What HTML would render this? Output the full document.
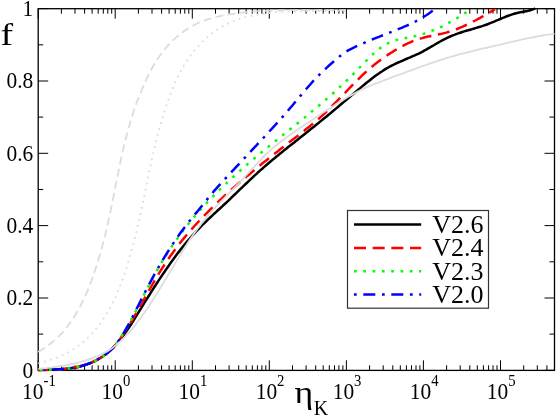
<!DOCTYPE html>
<html><head><meta charset="utf-8"><title>f vs eta_K</title>
<style>
html,body{margin:0;padding:0;background:#fff;}
body{width:556px;height:416px;overflow:hidden;}
svg{display:block;}
text{font-family:"Liberation Serif",serif;fill:#000;}
</style></head><body>
<svg width="556" height="416" viewBox="0 0 556 416">
<rect x="0" y="0" width="556" height="416" fill="#fff"/>
<defs><clipPath id="pa"><rect x="37.2" y="6.7" width="518.3" height="365.7"/></clipPath></defs>

<path d="M38.2 370.3 v-10 M38.2 8.7 v10 M61.4 370.3 v-5 M61.4 8.7 v5 M75.0 370.3 v-5 M75.0 8.7 v5 M84.6 370.3 v-5 M84.6 8.7 v5 M92.1 370.3 v-5 M92.1 8.7 v5 M98.2 370.3 v-5 M98.2 8.7 v5 M103.3 370.3 v-5 M103.3 8.7 v5 M107.8 370.3 v-5 M107.8 8.7 v5 M111.7 370.3 v-5 M111.7 8.7 v5 M115.2 370.3 v-10 M115.2 8.7 v10 M138.4 370.3 v-5 M138.4 8.7 v5 M152.0 370.3 v-5 M152.0 8.7 v5 M161.6 370.3 v-5 M161.6 8.7 v5 M169.1 370.3 v-5 M169.1 8.7 v5 M175.2 370.3 v-5 M175.2 8.7 v5 M180.4 370.3 v-5 M180.4 8.7 v5 M184.8 370.3 v-5 M184.8 8.7 v5 M188.8 370.3 v-5 M188.8 8.7 v5 M192.3 370.3 v-10 M192.3 8.7 v10 M215.5 370.3 v-5 M215.5 8.7 v5 M229.1 370.3 v-5 M229.1 8.7 v5 M238.7 370.3 v-5 M238.7 8.7 v5 M246.2 370.3 v-5 M246.2 8.7 v5 M252.3 370.3 v-5 M252.3 8.7 v5 M257.4 370.3 v-5 M257.4 8.7 v5 M261.9 370.3 v-5 M261.9 8.7 v5 M265.8 370.3 v-5 M265.8 8.7 v5 M269.3 370.3 v-10 M269.3 8.7 v10 M292.5 370.3 v-5 M292.5 8.7 v5 M306.1 370.3 v-5 M306.1 8.7 v5 M315.7 370.3 v-5 M315.7 8.7 v5 M323.2 370.3 v-5 M323.2 8.7 v5 M329.3 370.3 v-5 M329.3 8.7 v5 M334.5 370.3 v-5 M334.5 8.7 v5 M338.9 370.3 v-5 M338.9 8.7 v5 M342.9 370.3 v-5 M342.9 8.7 v5 M346.4 370.3 v-10 M346.4 8.7 v10 M369.6 370.3 v-5 M369.6 8.7 v5 M383.2 370.3 v-5 M383.2 8.7 v5 M392.8 370.3 v-5 M392.8 8.7 v5 M400.3 370.3 v-5 M400.3 8.7 v5 M406.4 370.3 v-5 M406.4 8.7 v5 M411.5 370.3 v-5 M411.5 8.7 v5 M416.0 370.3 v-5 M416.0 8.7 v5 M419.9 370.3 v-5 M419.9 8.7 v5 M423.4 370.3 v-10 M423.4 8.7 v10 M446.6 370.3 v-5 M446.6 8.7 v5 M460.2 370.3 v-5 M460.2 8.7 v5 M469.8 370.3 v-5 M469.8 8.7 v5 M477.3 370.3 v-5 M477.3 8.7 v5 M483.4 370.3 v-5 M483.4 8.7 v5 M488.6 370.3 v-5 M488.6 8.7 v5 M493.0 370.3 v-5 M493.0 8.7 v5 M497.0 370.3 v-5 M497.0 8.7 v5 M500.5 370.3 v-10 M500.5 8.7 v10 M523.7 370.3 v-5 M523.7 8.7 v5 M537.3 370.3 v-5 M537.3 8.7 v5 M546.9 370.3 v-5 M546.9 8.7 v5 M38.2 370.3 h10 M554.5 370.3 h-10 M38.2 334.1 h5 M554.5 334.1 h-5 M38.2 298.0 h10 M554.5 298.0 h-10 M38.2 261.8 h5 M554.5 261.8 h-5 M38.2 225.6 h10 M554.5 225.6 h-10 M38.2 189.5 h5 M554.5 189.5 h-5 M38.2 153.3 h10 M554.5 153.3 h-10 M38.2 117.1 h5 M554.5 117.1 h-5 M38.2 81.0 h10 M554.5 81.0 h-10 M38.2 44.8 h5 M554.5 44.8 h-5 M38.2 8.6 h10 M554.5 8.6 h-10" stroke="#000" stroke-width="1" fill="none"/>
<rect x="38.2" y="8.7" width="516.3" height="361.7" fill="none" stroke="#000" stroke-width="1.3"/>
<g fill="none" stroke-linejoin="round" clip-path="url(#pa)">
<path d="M38.2 370.0 L40.2 369.9 L42.2 369.8 L44.2 369.8 L46.2 369.7 L48.2 369.6 L50.2 369.5 L52.2 369.5 L54.2 369.4 L56.2 369.3 L58.2 369.3 L60.2 369.2 L62.2 369.1 L64.2 368.9 L66.2 368.7 L68.2 368.5 L70.2 368.3 L72.2 368.0 L74.2 367.7 L76.2 367.4 L78.2 367.0 L80.2 366.5 L82.2 365.9 L84.2 365.3 L86.2 364.6 L88.2 363.9 L90.2 363.2 L92.2 362.4 L94.2 361.4 L96.2 360.3 L98.2 359.2 L100.2 358.0 L102.2 356.7 L104.2 355.3 L106.2 353.7 L108.2 352.1 L110.2 350.3 L112.2 348.5 L114.2 346.5 L116.2 344.3 L118.2 342.0 L120.2 339.6 L122.2 337.1 L124.2 334.4 L126.2 331.5 L128.2 328.6 L130.2 325.7 L132.2 322.6 L134.2 319.4 L136.2 316.2 L138.2 312.9 L140.2 309.6 L142.2 306.4 L144.2 303.2 L146.2 299.9 L148.2 296.8 L150.2 293.6 L152.2 290.4 L154.2 287.3 L156.2 284.2 L158.2 281.1 L160.2 278.1 L162.2 275.1 L164.2 272.2 L166.2 269.2 L168.2 266.4 L170.2 263.5 L172.2 260.7 L174.2 258.0 L176.2 255.3 L178.2 252.6 L180.2 250.1 L182.2 247.5 L184.2 245.0 L186.2 242.6 L188.2 240.3 L190.2 238.0 L192.2 235.7 L194.2 233.6 L196.2 231.4 L198.2 229.3 L200.2 227.3 L202.2 225.2 L204.2 223.3 L206.2 221.3 L208.2 219.4 L210.2 217.5 L212.2 215.6 L214.2 213.7 L216.2 211.9 L218.2 210.0 L220.2 208.2 L222.2 206.4 L224.2 204.5 L226.2 202.7 L228.2 200.8 L230.2 198.9 L232.2 196.9 L234.2 195.0 L236.2 193.1 L238.2 191.2 L240.2 189.2 L242.2 187.3 L244.2 185.4 L246.2 183.5 L248.2 181.6 L250.2 179.7 L252.2 177.8 L254.2 175.9 L256.2 174.1 L258.2 172.2 L260.2 170.4 L262.2 168.7 L264.2 166.9 L266.2 165.2 L268.2 163.5 L270.2 161.8 L272.2 160.1 L274.2 158.5 L276.2 156.8 L278.2 155.2 L280.2 153.5 L282.2 151.9 L284.2 150.3 L286.2 148.7 L288.2 147.1 L290.2 145.6 L292.2 144.0 L294.2 142.4 L296.2 140.8 L298.2 139.2 L300.2 137.6 L302.2 136.0 L304.2 134.4 L306.2 132.8 L308.2 131.2 L310.2 129.6 L312.2 128.0 L314.2 126.4 L316.2 124.8 L318.2 123.2 L320.2 121.6 L322.2 119.9 L324.2 118.3 L326.2 116.7 L328.2 115.0 L330.2 113.4 L332.2 111.7 L334.2 110.1 L336.2 108.4 L338.2 106.7 L340.2 105.0 L342.2 103.3 L344.2 101.6 L346.2 100.0 L348.2 98.3 L350.2 96.6 L352.2 94.9 L354.2 93.2 L356.2 91.5 L358.2 89.8 L360.2 88.1 L362.2 86.4 L364.2 84.7 L366.2 83.1 L368.2 81.5 L370.2 79.9 L372.2 78.3 L374.2 76.8 L376.2 75.3 L378.2 73.9 L380.2 72.5 L382.2 71.2 L384.2 69.9 L386.2 68.6 L388.2 67.5 L390.2 66.4 L392.2 65.3 L394.2 64.4 L396.2 63.4 L398.2 62.5 L400.2 61.7 L402.2 60.8 L404.2 59.9 L406.2 59.0 L408.2 58.1 L410.2 57.3 L412.2 56.4 L414.2 55.6 L416.2 54.7 L418.2 53.8 L420.2 52.8 L422.2 51.8 L424.2 50.7 L426.2 49.6 L428.2 48.4 L430.2 47.3 L432.2 46.1 L434.2 45.0 L436.2 43.8 L438.2 42.6 L440.2 41.5 L442.2 40.4 L444.2 39.3 L446.2 38.3 L448.2 37.4 L450.2 36.5 L452.2 35.6 L454.2 34.9 L456.2 34.1 L458.2 33.4 L460.2 32.7 L462.2 32.0 L464.2 31.4 L466.2 30.8 L468.2 30.3 L470.2 29.7 L472.2 29.1 L474.2 28.5 L476.2 27.9 L478.2 27.3 L480.2 26.7 L482.2 26.1 L484.2 25.4 L486.2 24.7 L488.2 24.0 L490.2 23.2 L492.2 22.4 L494.2 21.6 L496.2 20.7 L498.2 19.9 L500.2 19.0 L502.2 18.1 L504.2 17.3 L506.2 16.5 L508.2 15.8 L510.2 15.1 L512.2 14.4 L514.2 13.8 L516.2 13.2 L518.2 12.7 L520.2 12.3 L522.2 11.9 L524.2 11.6 L526.2 11.2 L528.2 10.8 L530.2 10.3 L532.2 9.6 L534.2 8.9 L535.1 8.5" stroke="#000" stroke-width="2.5"/>
<path d="M38.2 370.0 L40.2 370.0 L42.2 369.9 L44.2 369.9 L46.2 369.9 L48.2 369.8 L50.2 369.7 L52.2 369.7 L54.2 369.6 L56.2 369.5 L58.2 369.4 L60.2 369.2 L62.2 369.1 L64.2 368.9 L66.2 368.7 L68.2 368.4 L70.2 368.1 L72.2 367.8 L74.2 367.5 L76.2 367.1 L78.2 366.7 L80.2 366.2 L82.2 365.6 L84.2 365.0 L86.2 364.4 L88.2 363.7 L90.2 363.0 L92.2 362.2 L94.2 361.3 L96.2 360.3 L98.2 359.3 L100.2 358.1 L102.2 356.9 L104.2 355.5 L106.2 354.0 L108.2 352.3 L110.2 350.5 L112.2 348.5 L114.2 346.4 L116.2 344.0 L118.2 341.4 L120.2 338.7 L122.2 335.9 L124.2 332.9 L126.2 329.8 L128.2 326.6 L130.2 323.3 L132.2 320.0 L134.2 316.6 L136.2 313.1 L138.2 309.6 L140.2 306.1 L142.2 302.5 L144.2 299.0 L146.2 295.5 L148.2 291.9 L150.2 288.4 L152.2 284.9 L154.2 281.4 L156.2 278.0 L158.2 274.7 L160.2 271.4 L162.2 268.2 L164.2 265.1 L166.2 262.1 L168.2 259.1 L170.2 256.2 L172.2 253.4 L174.2 250.7 L176.2 248.0 L178.2 245.4 L180.2 242.8 L182.2 240.3 L184.2 237.9 L186.2 235.5 L188.2 233.1 L190.2 230.8 L192.2 228.6 L194.2 226.3 L196.2 224.1 L198.2 222.0 L200.2 219.9 L202.2 217.8 L204.2 215.7 L206.2 213.7 L208.2 211.7 L210.2 209.7 L212.2 207.7 L214.2 205.8 L216.2 203.8 L218.2 201.9 L220.2 200.0 L222.2 198.1 L224.2 196.3 L226.2 194.5 L228.2 192.6 L230.2 190.8 L232.2 189.0 L234.2 187.3 L236.2 185.5 L238.2 183.7 L240.2 182.0 L242.2 180.3 L244.2 178.6 L246.2 176.9 L248.2 175.2 L250.2 173.5 L252.2 171.8 L254.2 170.2 L256.2 168.5 L258.2 166.9 L260.2 165.2 L262.2 163.6 L264.2 162.0 L266.2 160.4 L268.2 158.8 L270.2 157.2 L272.2 155.6 L274.2 154.0 L276.2 152.4 L278.2 150.9 L280.2 149.3 L282.2 147.7 L284.2 146.2 L286.2 144.6 L288.2 143.1 L290.2 141.5 L292.2 140.0 L294.2 138.5 L296.2 136.9 L298.2 135.4 L300.2 133.8 L302.2 132.2 L304.2 130.7 L306.2 129.1 L308.2 127.5 L310.2 125.9 L312.2 124.2 L314.2 122.6 L316.2 120.9 L318.2 119.2 L320.2 117.4 L322.2 115.6 L324.2 113.8 L326.2 111.9 L328.2 110.0 L330.2 108.0 L332.2 106.0 L334.2 104.0 L336.2 102.0 L338.2 99.9 L340.2 97.8 L342.2 95.7 L344.2 93.7 L346.2 91.6 L348.2 89.5 L350.2 87.4 L352.2 85.3 L354.2 83.3 L356.2 81.3 L358.2 79.3 L360.2 77.3 L362.2 75.4 L364.2 73.5 L366.2 71.6 L368.2 69.8 L370.2 68.1 L372.2 66.4 L374.2 64.8 L376.2 63.2 L378.2 61.7 L380.2 60.2 L382.2 58.7 L384.2 57.3 L386.2 56.0 L388.2 54.6 L390.2 53.3 L392.2 52.1 L394.2 50.8 L396.2 49.6 L398.2 48.4 L400.2 47.3 L402.2 46.2 L404.2 45.2 L406.2 44.1 L408.2 43.2 L410.2 42.3 L412.2 41.4 L414.2 40.6 L416.2 39.9 L418.2 39.2 L420.2 38.6 L422.2 38.1 L424.2 37.5 L426.2 37.0 L428.2 36.6 L430.2 36.2 L432.2 35.8 L434.2 35.4 L436.2 34.9 L438.2 34.5 L440.2 34.1 L442.2 33.6 L444.2 33.1 L446.2 32.6 L448.2 32.0 L450.2 31.4 L452.2 30.7 L454.2 30.0 L456.2 29.3 L458.2 28.5 L460.2 27.6 L462.2 26.8 L464.2 25.9 L466.2 25.0 L468.2 24.0 L470.2 23.1 L472.2 22.1 L474.2 21.0 L476.2 20.0 L478.2 18.9 L480.2 17.8 L482.2 16.7 L484.2 15.6 L486.2 14.4 L488.2 13.3 L490.2 12.1 L492.2 10.9 L494.2 9.7 L495.0 9.3" stroke="#f00" stroke-width="2.5" stroke-dasharray="12 6.7" stroke-dashoffset="1.8"/>
<path d="M38.2 370.0 L40.2 370.0 L42.2 370.0 L44.2 369.9 L46.2 369.9 L48.2 369.8 L50.2 369.8 L52.2 369.7 L54.2 369.6 L56.2 369.5 L58.2 369.4 L60.2 369.2 L62.2 369.1 L64.2 368.9 L66.2 368.6 L68.2 368.4 L70.2 368.1 L72.2 367.8 L74.2 367.4 L76.2 367.1 L78.2 366.6 L80.2 366.1 L82.2 365.6 L84.2 365.0 L86.2 364.4 L88.2 363.7 L90.2 363.0 L92.2 362.2 L94.2 361.4 L96.2 360.4 L98.2 359.4 L100.2 358.2 L102.2 357.0 L104.2 355.6 L106.2 354.1 L108.2 352.3 L110.2 350.5 L112.2 348.5 L114.2 346.3 L116.2 343.8 L118.2 341.1 L120.2 338.3 L122.2 335.3 L124.2 332.1 L126.2 328.7 L128.2 325.2 L130.2 321.7 L132.2 317.9 L134.2 314.1 L136.2 310.2 L138.2 306.3 L140.2 302.4 L142.2 298.4 L144.2 294.4 L146.2 290.5 L148.2 286.6 L150.2 282.8 L152.2 279.1 L154.2 275.4 L156.2 271.8 L158.2 268.3 L160.2 264.9 L162.2 261.5 L164.2 258.3 L166.2 255.1 L168.2 252.0 L170.2 248.9 L172.2 245.9 L174.2 243.0 L176.2 240.1 L178.2 237.4 L180.2 234.6 L182.2 232.0 L184.2 229.3 L186.2 226.7 L188.2 224.2 L190.2 221.7 L192.2 219.3 L194.2 216.9 L196.2 214.6 L198.2 212.3 L200.2 210.0 L202.2 207.8 L204.2 205.6 L206.2 203.5 L208.2 201.3 L210.2 199.3 L212.2 197.2 L214.2 195.1 L216.2 193.1 L218.2 191.1 L220.2 189.2 L222.2 187.2 L224.2 185.3 L226.2 183.4 L228.2 181.5 L230.2 179.6 L232.2 177.8 L234.2 176.0 L236.2 174.1 L238.2 172.4 L240.2 170.6 L242.2 168.8 L244.2 167.1 L246.2 165.3 L248.2 163.6 L250.2 161.9 L252.2 160.2 L254.2 158.5 L256.2 156.8 L258.2 155.1 L260.2 153.5 L262.2 151.8 L264.2 150.2 L266.2 148.5 L268.2 146.9 L270.2 145.3 L272.2 143.7 L274.2 142.1 L276.2 140.4 L278.2 138.8 L280.2 137.2 L282.2 135.6 L284.2 134.0 L286.2 132.4 L288.2 130.8 L290.2 129.2 L292.2 127.6 L294.2 126.0 L296.2 124.4 L298.2 122.7 L300.2 121.1 L302.2 119.5 L304.2 117.9 L306.2 116.2 L308.2 114.6 L310.2 112.9 L312.2 111.2 L314.2 109.6 L316.2 107.9 L318.2 106.2 L320.2 104.5 L322.2 102.8 L324.2 101.1 L326.2 99.3 L328.2 97.6 L330.2 95.8 L332.2 94.0 L334.2 92.2 L336.2 90.4 L338.2 88.5 L340.2 86.7 L342.2 84.8 L344.2 82.9 L346.2 81.0 L348.2 79.1 L350.2 77.1 L352.2 75.2 L354.2 73.1 L356.2 71.1 L358.2 69.1 L360.2 67.0 L362.2 64.9 L364.2 62.9 L366.2 60.8 L368.2 58.8 L370.2 56.8 L372.2 54.9 L374.2 53.1 L376.2 51.3 L378.2 49.6 L380.2 48.1 L382.2 46.6 L384.2 45.2 L386.2 44.1 L388.2 43.1 L390.2 42.2 L392.2 41.3 L394.2 40.7 L396.2 40.1 L398.2 39.6 L400.2 39.1 L402.2 38.7 L404.2 38.3 L406.2 37.9 L408.2 37.6 L410.2 37.2 L412.2 36.8 L414.2 36.4 L416.2 35.9 L418.2 35.4 L420.2 34.8 L422.2 34.2 L424.2 33.6 L426.2 32.9 L428.2 32.2 L430.2 31.5 L432.2 30.7 L434.2 29.9 L436.2 29.1 L438.2 28.2 L440.2 27.3 L442.2 26.3 L444.2 25.3 L446.2 24.3 L448.2 23.2 L450.2 22.1 L452.2 21.0 L454.2 19.9 L456.2 18.7 L458.2 17.5 L460.2 16.2 L462.2 14.9 L464.2 13.6 L466.2 12.3 L468.2 10.9 L470.0 9.6" stroke="#0f0" stroke-width="2.5" stroke-dasharray="2.7 6.6" stroke-dashoffset="7.8"/>
<path d="M38.2 370.0 L40.2 369.9 L42.2 369.9 L44.2 369.8 L46.2 369.8 L48.2 369.7 L50.2 369.6 L52.2 369.6 L54.2 369.5 L56.2 369.4 L58.2 369.3 L60.2 369.2 L62.2 369.1 L64.2 368.9 L66.2 368.7 L68.2 368.5 L70.2 368.2 L72.2 367.9 L74.2 367.6 L76.2 367.3 L78.2 366.8 L80.2 366.3 L82.2 365.8 L84.2 365.2 L86.2 364.5 L88.2 363.8 L90.2 363.0 L92.2 362.2 L94.2 361.3 L96.2 360.3 L98.2 359.1 L100.2 358.0 L102.2 356.7 L104.2 355.4 L106.2 353.9 L108.2 352.3 L110.2 350.6 L112.2 348.7 L114.2 346.5 L116.2 344.1 L118.2 341.4 L120.2 338.5 L122.2 335.4 L124.2 332.1 L126.2 328.7 L128.2 325.1 L130.2 321.4 L132.2 317.6 L134.2 313.7 L136.2 309.7 L138.2 305.7 L140.2 301.7 L142.2 297.7 L144.2 293.8 L146.2 289.9 L148.2 286.0 L150.2 282.3 L152.2 278.6 L154.2 274.9 L156.2 271.3 L158.2 267.8 L160.2 264.3 L162.2 260.9 L164.2 257.6 L166.2 254.4 L168.2 251.2 L170.2 248.0 L172.2 244.9 L174.2 241.9 L176.2 239.0 L178.2 236.1 L180.2 233.3 L182.2 230.6 L184.2 227.9 L186.2 225.3 L188.2 222.7 L190.2 220.2 L192.2 217.7 L194.2 215.3 L196.2 212.9 L198.2 210.5 L200.2 208.0 L202.2 205.5 L204.2 202.9 L206.2 200.5 L208.2 198.0 L210.2 195.6 L212.2 193.3 L214.2 190.9 L216.2 188.6 L218.2 186.4 L220.2 184.2 L222.2 182.0 L224.2 179.8 L226.2 177.7 L228.2 175.5 L230.2 173.4 L232.2 171.2 L234.2 169.1 L236.2 166.9 L238.2 164.8 L240.2 162.7 L242.2 160.5 L244.2 158.4 L246.2 156.3 L248.2 154.1 L250.2 152.0 L252.2 149.8 L254.2 147.7 L256.2 145.6 L258.2 143.4 L260.2 141.3 L262.2 139.1 L264.2 137.0 L266.2 134.8 L268.2 132.7 L270.2 130.5 L272.2 128.3 L274.2 126.2 L276.2 124.0 L278.2 121.7 L280.2 119.5 L282.2 117.3 L284.2 115.0 L286.2 112.7 L288.2 110.4 L290.2 108.0 L292.2 105.7 L294.2 103.3 L296.2 100.9 L298.2 98.5 L300.2 96.1 L302.2 93.7 L304.2 91.4 L306.2 89.0 L308.2 86.7 L310.2 84.5 L312.2 82.2 L314.2 80.1 L316.2 77.9 L318.2 75.9 L320.2 73.9 L322.2 71.9 L324.2 70.0 L326.2 68.2 L328.2 66.3 L330.2 64.5 L332.2 62.8 L334.2 61.0 L336.2 59.3 L338.2 57.6 L340.2 55.9 L342.2 54.3 L344.2 52.9 L346.2 51.6 L348.2 50.4 L350.2 49.3 L352.2 48.3 L354.2 47.3 L356.2 46.4 L358.2 45.5 L360.2 44.6 L362.2 43.7 L364.2 42.9 L366.2 42.0 L368.2 41.2 L370.2 40.4 L372.2 39.5 L374.2 38.7 L376.2 37.9 L378.2 37.1 L380.2 36.3 L382.2 35.5 L384.2 34.7 L386.2 33.9 L388.2 33.1 L390.2 32.4 L392.2 31.6 L394.2 30.8 L396.2 30.0 L398.2 29.2 L400.2 28.4 L402.2 27.6 L404.2 26.7 L406.2 25.8 L408.2 25.0 L410.2 24.0 L412.2 23.1 L414.2 22.1 L416.2 21.1 L418.2 20.0 L420.2 18.9 L422.2 17.7 L424.2 16.5 L426.2 15.3 L428.2 14.0 L430.2 12.6 L432.2 11.1 L434.2 9.7 L434.4 9.5" stroke="#00f" stroke-width="2.5" stroke-dasharray="2.7 6.6 12 6.6" stroke-dashoffset="23.2"/>
<path d="M38.3 368.8 L40.3 368.6 L42.3 368.5 L44.3 368.3 L46.3 368.1 L48.3 367.8 L50.3 367.6 L52.3 367.4 L54.3 367.1 L56.3 366.8 L58.3 366.5 L60.3 366.2 L62.3 365.9 L64.3 365.6 L66.3 365.2 L68.3 364.8 L70.3 364.4 L72.3 363.9 L74.3 363.5 L76.3 363.0 L78.3 362.5 L80.3 361.9 L82.3 361.4 L84.3 360.8 L86.3 360.2 L88.3 359.6 L90.3 358.9 L92.3 358.2 L94.3 357.4 L96.3 356.6 L98.3 355.8 L100.3 354.9 L102.3 353.9 L104.3 352.9 L106.3 351.9 L108.3 350.7 L110.3 349.3 L112.3 347.9 L114.3 346.4 L116.3 344.8 L118.3 343.2 L120.3 341.4 L122.3 339.5 L124.3 337.6 L126.3 335.5 L128.3 333.4 L130.3 331.1 L132.3 328.7 L134.3 326.2 L136.3 323.6 L138.3 321.0 L140.3 318.4 L142.3 315.6 L144.3 312.8 L146.3 309.9 L148.3 306.9 L150.3 303.8 L152.3 300.8 L154.3 297.6 L156.3 294.4 L158.3 291.2 L160.3 288.0 L162.3 284.7 L164.3 281.4 L166.3 278.1 L168.3 274.8 L170.3 271.4 L172.3 268.1 L174.3 264.7 L176.3 261.4 L178.3 258.1 L180.3 254.8 L182.3 251.6 L184.3 248.4 L186.3 245.2 L188.3 242.1 L190.3 239.1 L192.3 236.1 L194.3 233.3 L196.3 230.5 L198.3 227.8 L200.3 225.1 L202.3 222.5 L204.3 220.0 L206.3 217.6 L208.3 215.2 L210.3 212.9 L212.3 210.6 L214.3 208.4 L216.3 206.3 L218.3 204.2 L220.3 202.1 L222.3 200.1 L224.3 198.1 L226.3 196.0 L228.3 194.0 L230.3 191.9 L232.3 189.9 L234.3 187.9 L236.3 185.9 L238.3 183.8 L240.3 181.8 L242.3 179.6 L244.3 177.4 L246.3 175.2 L248.3 173.0 L250.3 170.8 L252.3 168.7 L254.3 166.5 L256.3 164.4 L258.3 162.2 L260.3 160.1 L262.3 158.0 L264.3 156.0 L266.3 154.0 L268.3 152.1 L270.3 150.3 L272.3 148.6 L274.3 146.8 L276.3 145.2 L278.3 143.5 L280.3 142.0 L282.3 140.4 L284.3 139.0 L286.3 137.5 L288.3 136.1 L290.3 134.7 L292.3 133.3 L294.3 132.0 L296.3 130.6 L298.3 129.2 L300.3 127.8 L302.3 126.5 L304.3 125.1 L306.3 123.8 L308.3 122.4 L310.3 121.1 L312.3 119.8 L314.3 118.4 L316.3 117.1 L318.3 115.8 L320.3 114.4 L322.3 113.1 L324.3 111.8 L326.3 110.5 L328.3 109.2 L330.3 107.9 L332.3 106.7 L334.3 105.4 L336.3 104.1 L338.3 102.8 L340.3 101.6 L342.3 100.4 L344.3 99.2 L346.3 98.0 L348.3 96.8 L350.3 95.7 L352.3 94.6 L354.3 93.5 L356.3 92.4 L358.3 91.3 L360.3 90.3 L362.3 89.3 L364.3 88.4 L366.3 87.5 L368.3 86.6 L370.3 85.7 L372.3 84.9 L374.3 84.1 L376.3 83.3 L378.3 82.6 L380.3 81.8 L382.3 81.0 L384.3 80.2 L386.3 79.5 L388.3 78.7 L390.3 78.0 L392.3 77.2 L394.3 76.5 L396.3 75.7 L398.3 75.0 L400.3 74.3 L402.3 73.5 L404.3 72.8 L406.3 72.0 L408.3 71.3 L410.3 70.6 L412.3 69.8 L414.3 69.1 L416.3 68.3 L418.3 67.6 L420.3 66.9 L422.3 66.2 L424.3 65.5 L426.3 64.8 L428.3 64.1 L430.3 63.4 L432.3 62.7 L434.3 62.1 L436.3 61.4 L438.3 60.7 L440.3 60.1 L442.3 59.4 L444.3 58.8 L446.3 58.2 L448.3 57.6 L450.3 57.0 L452.3 56.4 L454.3 55.8 L456.3 55.2 L458.3 54.7 L460.3 54.1 L462.3 53.6 L464.3 53.1 L466.3 52.6 L468.3 52.1 L470.3 51.6 L472.3 51.1 L474.3 50.6 L476.3 50.1 L478.3 49.6 L480.3 49.2 L482.3 48.7 L484.3 48.2 L486.3 47.8 L488.3 47.3 L490.3 46.8 L492.3 46.4 L494.3 45.9 L496.3 45.5 L498.3 45.0 L500.3 44.6 L502.3 44.1 L504.3 43.6 L506.3 43.2 L508.3 42.7 L510.3 42.2 L512.3 41.7 L514.3 41.3 L516.3 40.8 L518.3 40.3 L520.3 39.9 L522.3 39.4 L524.3 39.0 L526.3 38.6 L528.3 38.2 L530.3 37.8 L532.3 37.4 L534.3 37.0 L536.3 36.6 L538.3 36.2 L540.3 35.8 L542.3 35.5 L544.3 35.2 L546.3 34.9 L548.3 34.6 L550.3 34.3 L552.3 34.1 L554.3 33.8 L554.5 33.8" stroke="#dcdcdc" stroke-width="1.8"/>
<path d="M38.2 352.1 L40.2 350.8 L42.2 349.5 L44.2 348.2 L46.2 346.8 L48.2 345.4 L50.2 343.8 L52.2 342.2 L54.2 340.6 L56.2 338.8 L58.2 336.9 L60.2 334.9 L62.2 332.8 L64.2 330.5 L66.2 328.1 L68.2 325.5 L70.2 322.8 L72.2 319.9 L74.2 316.8 L76.2 313.5 L78.2 310.1 L80.2 306.4 L82.2 302.4 L84.2 298.3 L86.2 293.8 L88.2 289.1 L90.2 284.0 L92.2 278.7 L94.2 273.0 L96.2 266.9 L98.2 260.5 L100.2 253.6 L102.2 246.4 L104.2 238.7 L106.2 230.6 L108.2 221.9 L110.2 212.8 L112.2 203.0 L114.2 192.9 L116.2 182.7 L118.2 172.6 L120.2 162.8 L122.2 153.6 L124.2 145.0 L126.2 137.0 L128.2 129.5 L130.2 122.5 L132.2 115.9 L134.2 109.7 L136.2 104.0 L138.2 98.7 L140.2 93.6 L142.2 88.8 L144.2 84.1 L146.2 79.7 L148.2 75.5 L150.2 71.5 L152.2 67.8 L154.2 64.3 L156.2 61.0 L158.2 58.0 L160.2 55.1 L162.2 52.4 L164.2 49.9 L166.2 47.5 L168.2 45.2 L170.2 43.1 L172.2 41.1 L174.2 39.2 L176.2 37.4 L178.2 35.7 L180.2 34.0 L182.2 32.5 L184.2 31.0 L186.2 29.7 L188.2 28.4 L190.2 27.2 L192.2 26.0 L194.2 25.0 L196.2 24.0 L198.2 23.0 L200.2 22.1 L202.2 21.3 L204.2 20.6 L206.2 19.9 L208.2 19.2 L210.2 18.6 L212.2 18.0 L214.2 17.5 L216.2 17.0 L218.2 16.5 L220.2 16.1 L222.2 15.6 L224.2 15.3 L226.2 14.9 L228.2 14.6 L230.2 14.2 L232.2 13.9 L234.2 13.6 L236.2 13.4 L238.2 13.1 L240.2 12.8 L242.2 12.6 L244.2 12.4 L246.2 12.2 L248.2 12.0 L250.2 11.8 L252.2 11.6 L254.2 11.5 L256.2 11.3 L258.2 11.2 L260.2 11.1 L262.2 11.0 L264.2 10.8 L266.2 10.7 L268.2 10.6 L270.2 10.6 L272.2 10.5 L274.2 10.4 L276.2 10.4 L278.2 10.3 L280.2 10.3 L282.2 10.2 L284.2 10.2 L286.2 10.2 L288.2 10.2 L290.2 10.2 L292.2 10.2 L294.2 10.2 L296.2 10.2 L298.2 10.2 L300.2 10.2 L302.2 10.2 L304.2 10.2 L306.2 10.2 L308.2 10.2 L310.2 10.2 L312.2 10.2 L314.2 10.2 L316.2 10.2 L318.2 10.2 L320.2 10.2 L322.2 10.2 L324.2 10.2 L326.2 10.2 L328.2 10.2 L330.2 10.2 L332.2 10.1 L334.2 10.1 L336.2 10.1 L338.2 10.1 L340.2 10.1 L342.2 10.1 L344.2 10.1 L346.0 10.1" stroke="#dcdcdc" stroke-width="1.8" stroke-dasharray="8 4.4"/>
<path d="M38.2 363.5 L40.2 362.9 L42.2 362.4 L44.2 361.8 L46.2 361.1 L48.2 360.5 L50.2 359.9 L52.2 359.2 L54.2 358.5 L56.2 357.8 L58.2 357.0 L60.2 356.1 L62.2 355.3 L64.2 354.3 L66.2 353.3 L68.2 352.3 L70.2 351.2 L72.2 350.0 L74.2 348.7 L76.2 347.4 L78.2 345.9 L80.2 344.4 L82.2 342.8 L84.2 341.1 L86.2 339.3 L88.2 337.4 L90.2 335.4 L92.2 333.3 L94.2 331.1 L96.2 328.7 L98.2 326.2 L100.2 323.6 L102.2 320.8 L104.2 317.8 L106.2 314.6 L108.2 311.3 L110.2 307.6 L112.2 303.8 L114.2 299.7 L116.2 295.3 L118.2 290.6 L120.2 285.6 L122.2 280.3 L124.2 274.6 L126.2 268.6 L128.2 262.2 L130.2 255.4 L132.2 248.2 L134.2 240.6 L136.2 232.5 L138.2 224.1 L140.2 215.2 L142.2 205.8 L144.2 196.1 L146.2 186.3 L148.2 176.5 L150.2 166.9 L152.2 157.7 L154.2 148.9 L156.2 140.7 L158.2 132.9 L160.2 125.5 L162.2 118.6 L164.2 112.1 L166.2 106.0 L168.2 100.2 L170.2 94.8 L172.2 89.7 L174.2 84.9 L176.2 80.4 L178.2 76.2 L180.2 72.2 L182.2 68.5 L184.2 65.0 L186.2 61.8 L188.2 58.7 L190.2 55.9 L192.2 53.2 L194.2 50.7 L196.2 48.3 L198.2 46.1 L200.2 44.0 L202.2 41.9 L204.2 40.0 L206.2 38.2 L208.2 36.4 L210.2 34.8 L212.2 33.2 L214.2 31.7 L216.2 30.3 L218.2 29.0 L220.2 27.8 L222.2 26.6 L224.2 25.5 L226.2 24.4 L228.2 23.4 L230.2 22.5 L232.2 21.7 L234.2 20.9 L236.2 20.1 L238.2 19.4 L240.2 18.7 L242.2 18.1 L244.2 17.6 L246.2 17.0 L248.2 16.5 L250.2 16.1 L252.2 15.7 L254.2 15.2 L256.2 14.9 L258.2 14.5 L260.2 14.2 L262.2 13.9 L264.2 13.6 L266.2 13.3 L268.2 13.1 L270.2 12.9 L272.2 12.7 L274.2 12.5 L276.2 12.3 L278.2 12.2 L280.2 12.0 L282.2 11.9 L284.2 11.8 L286.2 11.7 L288.2 11.6 L290.2 11.5 L292.2 11.5 L294.2 11.4 L296.2 11.4 L298.2 11.3 L300.2 11.3 L302.2 11.3 L304.2 11.2 L306.2 11.2 L308.2 11.2 L310.2 11.2 L312.2 11.2 L314.2 11.2 L316.2 11.2 L318.2 11.2 L320.2 11.1 L322.2 11.1 L324.2 11.1 L326.2 11.1 L328.2 11.0 L330.2 11.0 L332.2 10.9 L334.2 10.9 L336.2 10.8 L338.2 10.8 L340.2 10.7 L342.2 10.6 L344.2 10.6 L346.0 10.5" stroke="#dcdcdc" stroke-width="1.8" stroke-dasharray="1.8 4.4"/>
</g>
<text transform="translate(33.2 377.6) scale(0.92 1)" font-size="23.3" text-anchor="end">0</text>
<text transform="translate(33.2 305.3) scale(0.92 1)" font-size="23.3" text-anchor="end">0.2</text>
<text transform="translate(33.2 232.9) scale(0.92 1)" font-size="23.3" text-anchor="end">0.4</text>
<text transform="translate(33.2 160.6) scale(0.92 1)" font-size="23.3" text-anchor="end">0.6</text>
<text transform="translate(33.2 88.3) scale(0.92 1)" font-size="23.3" text-anchor="end">0.8</text>
<text transform="translate(33.2 15.9) scale(0.92 1)" font-size="23.3" text-anchor="end">1</text>
<text transform="translate(22.1 398.6) scale(0.92 1)" font-size="23.3">10<tspan font-size="16" dy="-12.6">-1</tspan></text>
<text transform="translate(101.6 398.6) scale(0.92 1)" font-size="23.3">10<tspan font-size="16" dy="-12.6">0</tspan></text>
<text transform="translate(178.6 398.6) scale(0.92 1)" font-size="23.3">10<tspan font-size="16" dy="-12.6">1</tspan></text>
<text transform="translate(255.7 398.6) scale(0.92 1)" font-size="23.3">10<tspan font-size="16" dy="-12.6">2</tspan></text>
<text transform="translate(332.7 398.6) scale(0.92 1)" font-size="23.3">10<tspan font-size="16" dy="-12.6">3</tspan></text>
<text transform="translate(409.8 398.6) scale(0.92 1)" font-size="23.3">10<tspan font-size="16" dy="-12.6">4</tspan></text>
<text transform="translate(486.8 398.6) scale(0.92 1)" font-size="23.3">10<tspan font-size="16" dy="-12.6">5</tspan></text>
<text transform="translate(0.6 44.5) scale(1.22 1)" font-size="31">f</text>
<text transform="translate(294.6 403.2) scale(1.12 1)" font-size="32">η</text><text x="313.8" y="414.5" font-size="20">K</text>
<rect x="347.5" y="210.5" width="141" height="97.7" fill="#fff" stroke="#333" stroke-width="1.2"/>
<path d="M354 224.4 H421.2" stroke="#000" stroke-width="2.5" fill="none"/>
<text x="432.3" y="232.6" font-size="26">V2.6</text>
<path d="M354 247.9 H421.2" stroke="#f00" stroke-width="2.5" fill="none" stroke-dasharray="12 6.67"/>
<text x="432.3" y="256.1" font-size="26">V2.4</text>
<path d="M354 271.3 H421.2" stroke="#0f0" stroke-width="2.5" fill="none" stroke-dasharray="2.7 6.6"/>
<text x="432.3" y="279.5" font-size="26">V2.3</text>
<path d="M354 294.6 H421.2" stroke="#00f" stroke-width="2.5" fill="none" stroke-dasharray="2.7 6.6 12 6.7"/>
<text x="432.3" y="302.8" font-size="26">V2.0</text>
</svg></body></html>
